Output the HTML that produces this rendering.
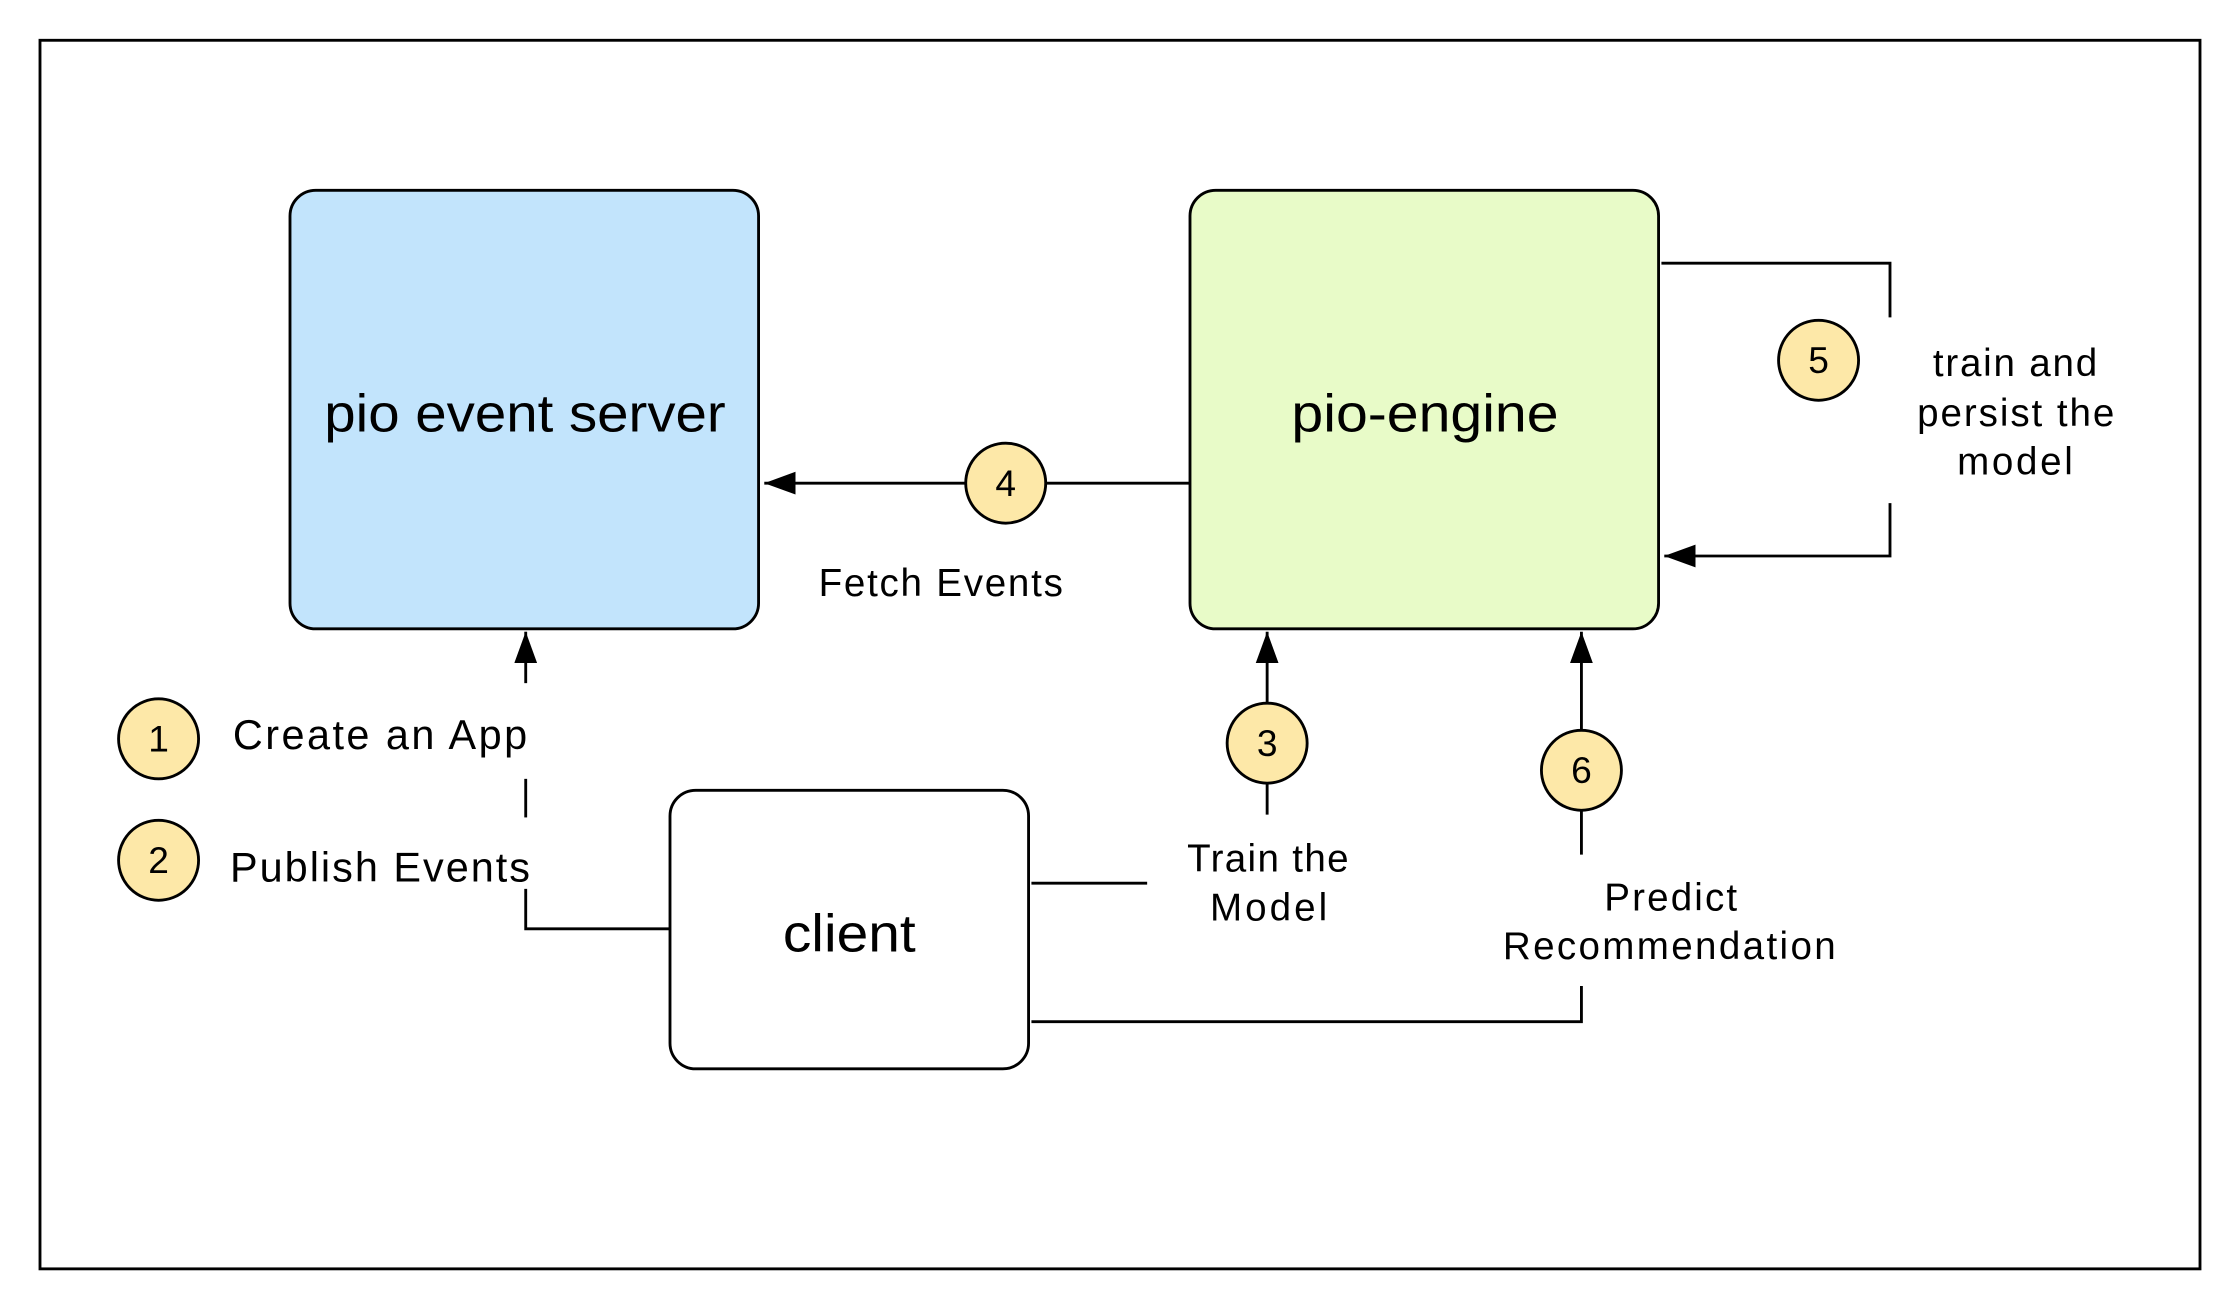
<!DOCTYPE html>
<html><head><meta charset="utf-8"><style>html,body{margin:0;padding:0;background:#fff}svg{display:block}</style></head>
<body>
<svg width="2240" height="1312" viewBox="0 0 1568 918" xmlns="http://www.w3.org/2000/svg" font-family="Liberation Sans, sans-serif">
<defs>
<marker id="b" markerWidth="22" markerHeight="16" refX="22" refY="8" orient="auto" markerUnits="userSpaceOnUse"><path d="M0,0 L22,8 L0,16 z" fill="#000"/></marker></defs>
<rect x="28" y="28" width="1512" height="860" fill="#fff" stroke="#000" stroke-width="2"/>
<rect x="203" y="133" width="328" height="307" rx="18" fill="#c2e4fc" stroke="#000" stroke-width="2"/>
<text x="227" y="302" font-size="37" textLength="281" lengthAdjust="spacingAndGlyphs">pio event server</text>
<rect x="833" y="133" width="328" height="307" rx="18" fill="#e8fbc8" stroke="#000" stroke-width="2"/>
<text x="904" y="302" font-size="37" textLength="187" lengthAdjust="spacingAndGlyphs">pio-engine</text>
<rect x="469" y="553" width="251" height="195" rx="18" fill="#fff" stroke="#000" stroke-width="2"/>
<text x="548" y="666" font-size="37" textLength="93" lengthAdjust="spacingAndGlyphs">client</text>
<g stroke="#000" stroke-width="2" fill="none">
<line x1="833" y1="338" x2="535" y2="338" marker-end="url(#b)"/>
<polyline points="1163,184 1323,184 1323,222"/>
<polyline points="1323,352 1323,389 1165,389" marker-end="url(#b)"/>
<polyline points="469,650 368,650 368,622"/>
<line x1="368" y1="572" x2="368" y2="545"/>
<line x1="368" y1="478" x2="368" y2="442" marker-end="url(#b)"/>
<line x1="722" y1="618" x2="803" y2="618"/>
<line x1="887" y1="570" x2="887" y2="442" marker-end="url(#b)"/>
<polyline points="722,715 1107,715 1107,690"/>
<line x1="1107" y1="598" x2="1107" y2="442" marker-end="url(#b)"/>
</g>
<g fill="#fde8a8" stroke="#000" stroke-width="2">
<circle cx="704" cy="338" r="28"/><circle cx="1273" cy="252" r="28"/><circle cx="111" cy="517" r="28"/><circle cx="111" cy="602" r="28"/><circle cx="887" cy="520" r="28"/><circle cx="1107" cy="539" r="28"/>
</g>
<g font-size="26" text-anchor="middle">
<text x="704" y="347">4</text><text x="1273" y="261">5</text><text x="111" y="526">1</text><text x="111" y="611">2</text><text x="887" y="529">3</text><text x="1107" y="548">6</text>
</g>
<g font-size="27" lengthAdjust="spacingAndGlyphs">
<text x="573" y="417" textLength="171">Fetch Events</text>
<text x="1353" y="263" textLength="115">train and</text><text x="1342" y="298" textLength="138">persist the</text><text x="1370" y="332" textLength="81">model</text>
<text x="831" y="610" textLength="113">Train the</text><text x="847" y="644" textLength="82">Model</text>
<text x="1123" y="637" textLength="93">Predict</text><text x="1052" y="671" textLength="233">Recommendation</text>
<text x="163" y="524" font-size="29" textLength="206">Create an App</text>
<text x="161" y="617" font-size="29" textLength="210">Publish Events</text>
</g>
</svg>
</body></html>
